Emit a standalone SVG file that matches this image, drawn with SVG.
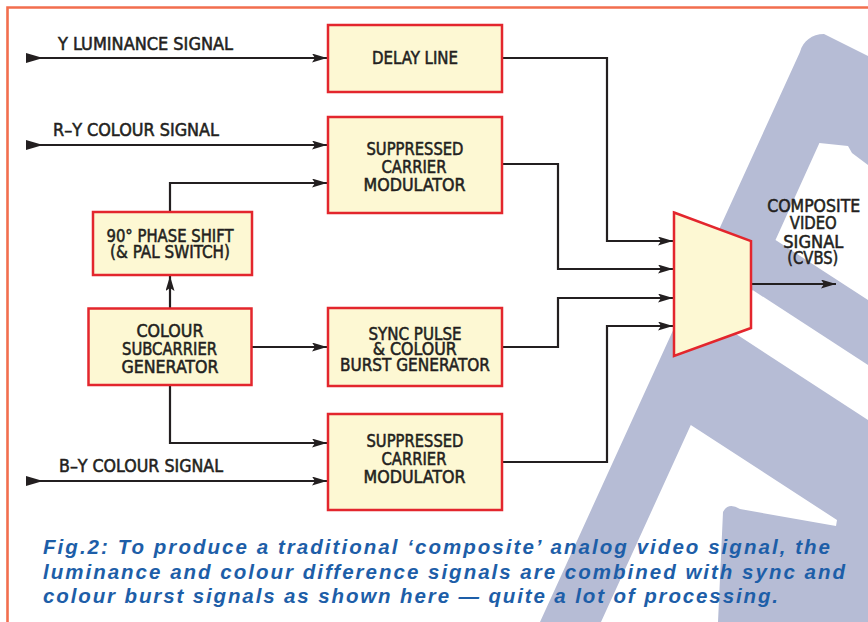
<svg xmlns="http://www.w3.org/2000/svg" width="868" height="622" viewBox="0 0 868 622">
<style>
.box{fill:#fdf8d3;stroke:#e3262d;stroke-width:2.5}
.lbl{font-family:"Liberation Sans Narrow","DejaVu Sans Condensed","Liberation Sans",sans-serif;font-size:17px;fill:#231f20;stroke:#231f20;stroke-width:0.5}
.c{text-anchor:middle}
.wm{fill:#b6bcd5}
.wh{fill:#ffffff}
.wire{fill:none;stroke:#231f20;stroke-width:2.2}
.in{marker-start:url(#tail);marker-end:url(#arr)}
.to{marker-end:url(#arr)}
.cap{font-family:"Liberation Sans",Arial,sans-serif;font-size:20.5px;font-weight:bold;font-style:italic;fill:#1d5ea8}
</style>
<defs>
<marker id="arr" markerUnits="userSpaceOnUse" markerWidth="16" markerHeight="9" refX="15" refY="4.5" orient="auto"><path d="M0,0 L15,4.5 L0,9 L3,4.5 Z" fill="#231f20"/></marker>
<marker id="tail" markerUnits="userSpaceOnUse" markerWidth="17" markerHeight="10" refX="0" refY="5" orient="auto"><path d="M0,0 L17,5 L0,10 Z" fill="#231f20"/></marker>
</defs>
<rect x="0" y="0" width="868" height="622" fill="#ffffff"/>
<g id="watermark">
<path class="wm" d="M800,52 C803,41 812,34 824,34 L868,56 L868,622 L540,622 Z"/>
<path class="wh" d="M819.4,143 L848,146 L852,153 L868,165 L868,300 L775.5,240 Z"/>
<path class="wh" d="M752.6,290 L868,365 L868,420 L733,332 Z"/>
<path class="wh" d="M690.8,425 L837,520 L836,526 L740,509 Q728,502 723,512 L718,622 L601,622 Z"/>
</g>
<path id="border" d="M7.5,622 V7.5 H868" fill="none" stroke="#f26e4e" stroke-width="2.6"/>
<g id="connectors">
<path class="wire in" d="M26,58 H327"/>
<path class="wire in" d="M26,145 H327"/>
<path class="wire in" d="M26,481 H327"/>
<path class="wire to" d="M502,58 H607 V241 H673"/>
<path class="wire to" d="M502,164 H558 V269 H673"/>
<path class="wire to" d="M502,347 H558 V298 H673"/>
<path class="wire to" d="M502,462 H607 V326 H673"/>
<path class="wire to" d="M751,284 H836"/>
<path class="wire to" d="M170,308 V276"/>
<path class="wire to" d="M170,212 V183 H327"/>
<path class="wire to" d="M252,347 H327"/>
<path class="wire to" d="M170,385 V443 H327"/>
<text class="lbl" x="58" y="50" textLength="175" lengthAdjust="spacingAndGlyphs">Y LUMINANCE SIGNAL</text>
<text class="lbl" x="53" y="136" textLength="166" lengthAdjust="spacingAndGlyphs">R–Y COLOUR SIGNAL</text>
<text class="lbl" x="59" y="472" textLength="164" lengthAdjust="spacingAndGlyphs">B–Y COLOUR SIGNAL</text>
</g>
<g id="n-delay">
<rect class="box" x="328" y="25" width="174" height="67"/>
<text class="lbl c" x="415" y="64" textLength="86" lengthAdjust="spacingAndGlyphs">DELAY LINE</text>
</g>
<g id="n-mod1">
<rect class="box" x="328" y="117" width="174" height="96"/>
<text class="lbl c" x="415" y="155" textLength="97" lengthAdjust="spacingAndGlyphs">SUPPRESSED</text>
<text class="lbl c" x="414" y="173" textLength="65" lengthAdjust="spacingAndGlyphs">CARRIER</text>
<text class="lbl c" x="414.5" y="190.5" textLength="102" lengthAdjust="spacingAndGlyphs">MODULATOR</text>
</g>
<g id="n-phase">
<rect class="box" x="93" y="212" width="159" height="63"/>
<text class="lbl c" x="170" y="241.5" textLength="127" lengthAdjust="spacingAndGlyphs">90° PHASE SHIFT</text>
<text class="lbl c" x="170" y="257.5" textLength="120" lengthAdjust="spacingAndGlyphs">(&amp; PAL SWITCH)</text>
</g>
<g id="n-subcarrier">
<rect class="box" x="88.5" y="308.5" width="163" height="76.5"/>
<text class="lbl c" x="170" y="336.7" textLength="67" lengthAdjust="spacingAndGlyphs">COLOUR</text>
<text class="lbl c" x="169.5" y="355" textLength="95" lengthAdjust="spacingAndGlyphs">SUBCARRIER</text>
<text class="lbl c" x="170" y="372.7" textLength="97" lengthAdjust="spacingAndGlyphs">GENERATOR</text>
</g>
<g id="n-sync">
<rect class="box" x="328" y="308" width="174" height="78"/>
<text class="lbl c" x="415" y="339.5" textLength="93" lengthAdjust="spacingAndGlyphs">SYNC PULSE</text>
<text class="lbl c" x="414.7" y="354.5" textLength="84" lengthAdjust="spacingAndGlyphs">&amp; COLOUR</text>
<text class="lbl c" x="415" y="371" textLength="150" lengthAdjust="spacingAndGlyphs">BURST GENERATOR</text>
</g>
<g id="n-mod2">
<rect class="box" x="328" y="414" width="174" height="96"/>
<text class="lbl c" x="415" y="446.7" textLength="97" lengthAdjust="spacingAndGlyphs">SUPPRESSED</text>
<text class="lbl c" x="414" y="465" textLength="65" lengthAdjust="spacingAndGlyphs">CARRIER</text>
<text class="lbl c" x="414.5" y="483.3" textLength="102" lengthAdjust="spacingAndGlyphs">MODULATOR</text>
</g>
<g id="n-mux">
<polygon class="box" points="674,212.5 751,241 751,328 674,356"/>
</g>
<g id="n-output">
<text class="lbl c" x="813.7" y="212.3" textLength="93" lengthAdjust="spacingAndGlyphs">COMPOSITE</text>
<text class="lbl c" x="813.3" y="229.3" textLength="47" lengthAdjust="spacingAndGlyphs">VIDEO</text>
<text class="lbl c" x="813.3" y="247.5" textLength="60" lengthAdjust="spacingAndGlyphs">SIGNAL</text>
<text class="lbl c" x="812.8" y="264" textLength="51" lengthAdjust="spacingAndGlyphs">(CVBS)</text>
</g>
<g id="caption">
<text class="cap" x="43" y="554" textLength="787" lengthAdjust="spacing">Fig.2: To produce a traditional ‘composite’ analog video signal, the</text>
<text class="cap" x="43" y="579" textLength="802" lengthAdjust="spacing">luminance and colour difference signals are combined with sync and</text>
<text class="cap" x="43" y="603" textLength="735" lengthAdjust="spacing">colour burst signals as shown here — quite a lot of processing.</text>
</g>
</svg>
